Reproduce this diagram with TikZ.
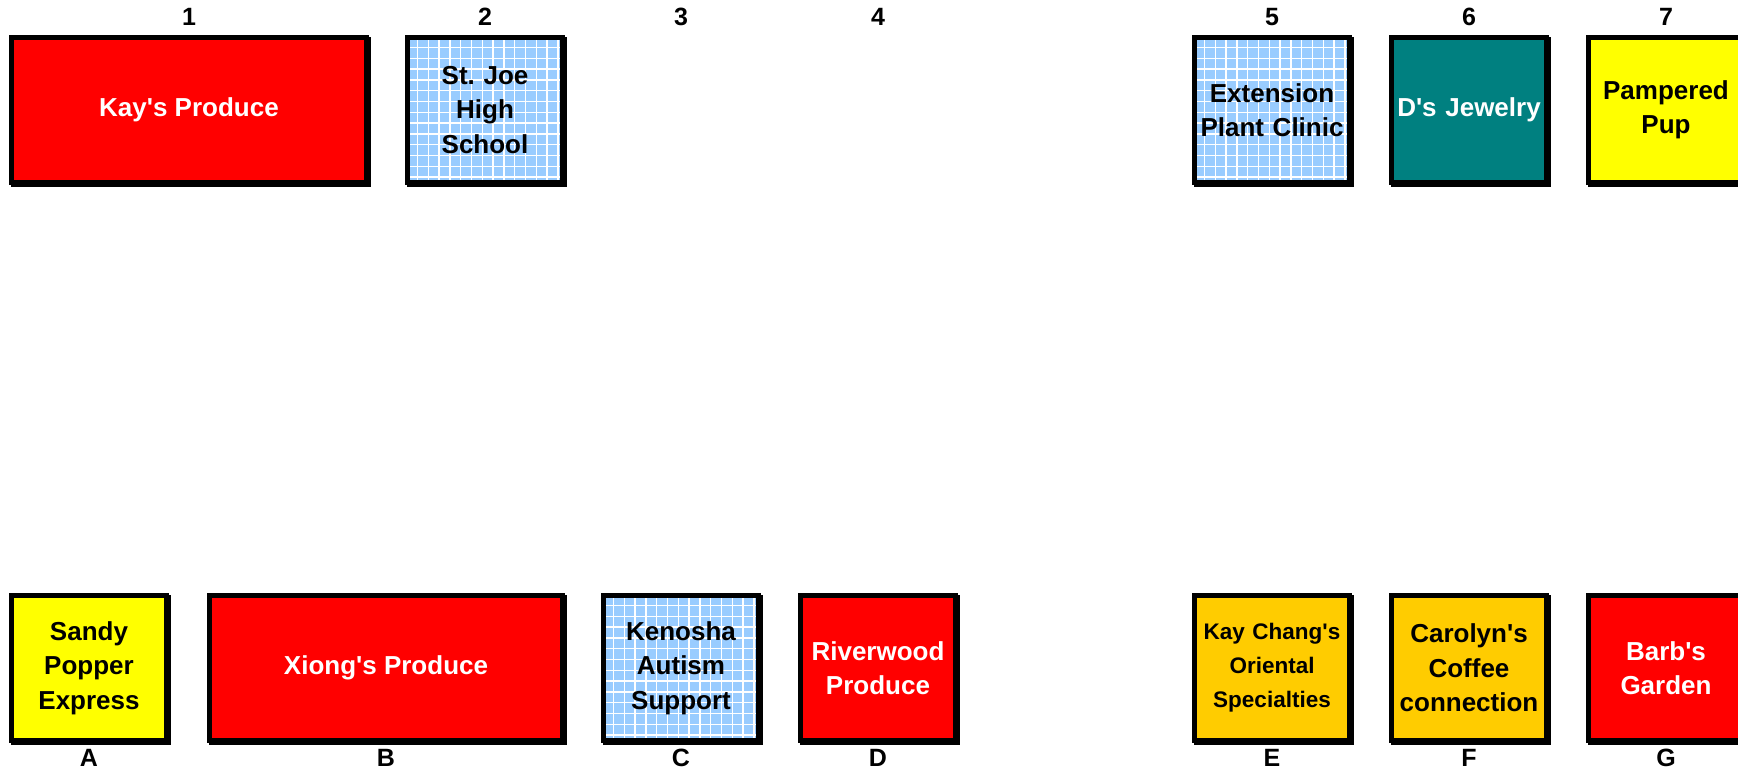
\documentclass[tikz,border=0pt]{standalone}
\usepackage{fontspec}
\setmainfont{Liberation Sans}[Ligatures=TeXOff]
\frenchspacing
\definecolor{kred}{HTML}{FF0000}
\definecolor{kyellow}{HTML}{FFFF00}
\definecolor{kteal}{HTML}{008080}
\definecolor{kgold}{HTML}{FFCC00}
\definecolor{kblue}{HTML}{99CCFF}
\tikzset{
  stall/.style={draw=black, line width=5pt, minimum height=145pt, inner sep=0pt,
    align=center, font=\bfseries\fontsize{26}{34.5}\selectfont,
    preaction={draw=black, line width=5pt, transform canvas={xshift=1.5pt,yshift=-1.5pt}}},
  narrow/.style={stall, minimum width=155pt, text width=150pt},
  wide/.style={stall, minimum width=355pt},
  redbox/.style={fill=kred, text=white},
  yellowbox/.style={fill=kyellow, text=black},
  tealbox/.style={fill=kteal, text=white},
  goldbox/.style={fill=kgold, text=black},
  gridbox/.style={text=black, path picture={
      \fill[kblue] (path picture bounding box.south west) rectangle (path picture bounding box.north east);
      \coordinate (gnw) at (path picture bounding box.north west);
      \foreach \i in {0,...,15}{
        \draw[white, line width=1.5pt] ([xshift=\i*10.8pt+10pt]gnw) -- ++(0pt,-170pt);
        \draw[white, line width=1.5pt] ([yshift=-\i*10.8pt-10pt]gnw) -- ++(170pt,0pt);
      }}},
  lbl/.style={font=\bfseries\fontsize{25}{25}\selectfont, text=black, inner sep=0pt}
}
\begin{document}
\begin{tikzpicture}[x=1pt,y=-1pt]
\useasboundingbox[fill=white] (0,0) rectangle (1738,771);
% top row
\node[wide, redbox] (s1) at (189,110) {Kay's Produce};
\node[narrow, gridbox] (s2) at (485,110) {St. Joe\\High\\School};
\node[narrow, gridbox] (s5) at (1272,110) {Extension\\Plant Clinic};
\node[narrow, tealbox] (s6) at (1469,110) {D's Jewelry};
\node[narrow, yellowbox] (s7) at (1666,110) {Pampered\\Pup};
% bottom row
\node[narrow, yellowbox] (sA) at (89,668) {Sandy\\Popper\\Express};
\node[wide, redbox, minimum width=353pt] (sB) at (386,668) {Xiong's Produce};
\node[narrow, gridbox] (sC) at (681,668) {Kenosha\\Autism\\Support};
\node[narrow, redbox] (sD) at (878,668) {Riverwood\\Produce};
\node[narrow, goldbox, font=\bfseries\fontsize{22.5}{34}\selectfont] (sE) at (1272,668) {Kay Chang's\\Oriental\\Specialties};
\node[narrow, goldbox] (sF) at (1469,668) {Carolyn's\\Coffee\\connection};
\node[narrow, redbox] (sG) at (1666,668) {Barb's\\Garden};
% top labels
\node[lbl] (l1) at (189,17) {1};
\node[lbl] (l2) at (485,17) {2};
\node[lbl] (l3) at (681,17) {3};
\node[lbl] (l4) at (878,17) {4};
\node[lbl] (l5) at (1272,17) {5};
\node[lbl] (l6) at (1469,17) {6};
\node[lbl] (l7) at (1666,17) {7};
% bottom labels
\node[lbl] (lA) at (89,758) {A};
\node[lbl] (lB) at (386,758) {B};
\node[lbl] (lC) at (681,758) {C};
\node[lbl] (lD) at (878,758) {D};
\node[lbl] (lE) at (1272,758) {E};
\node[lbl] (lF) at (1469,758) {F};
\node[lbl] (lG) at (1666,758) {G};
\end{tikzpicture}
\end{document}
